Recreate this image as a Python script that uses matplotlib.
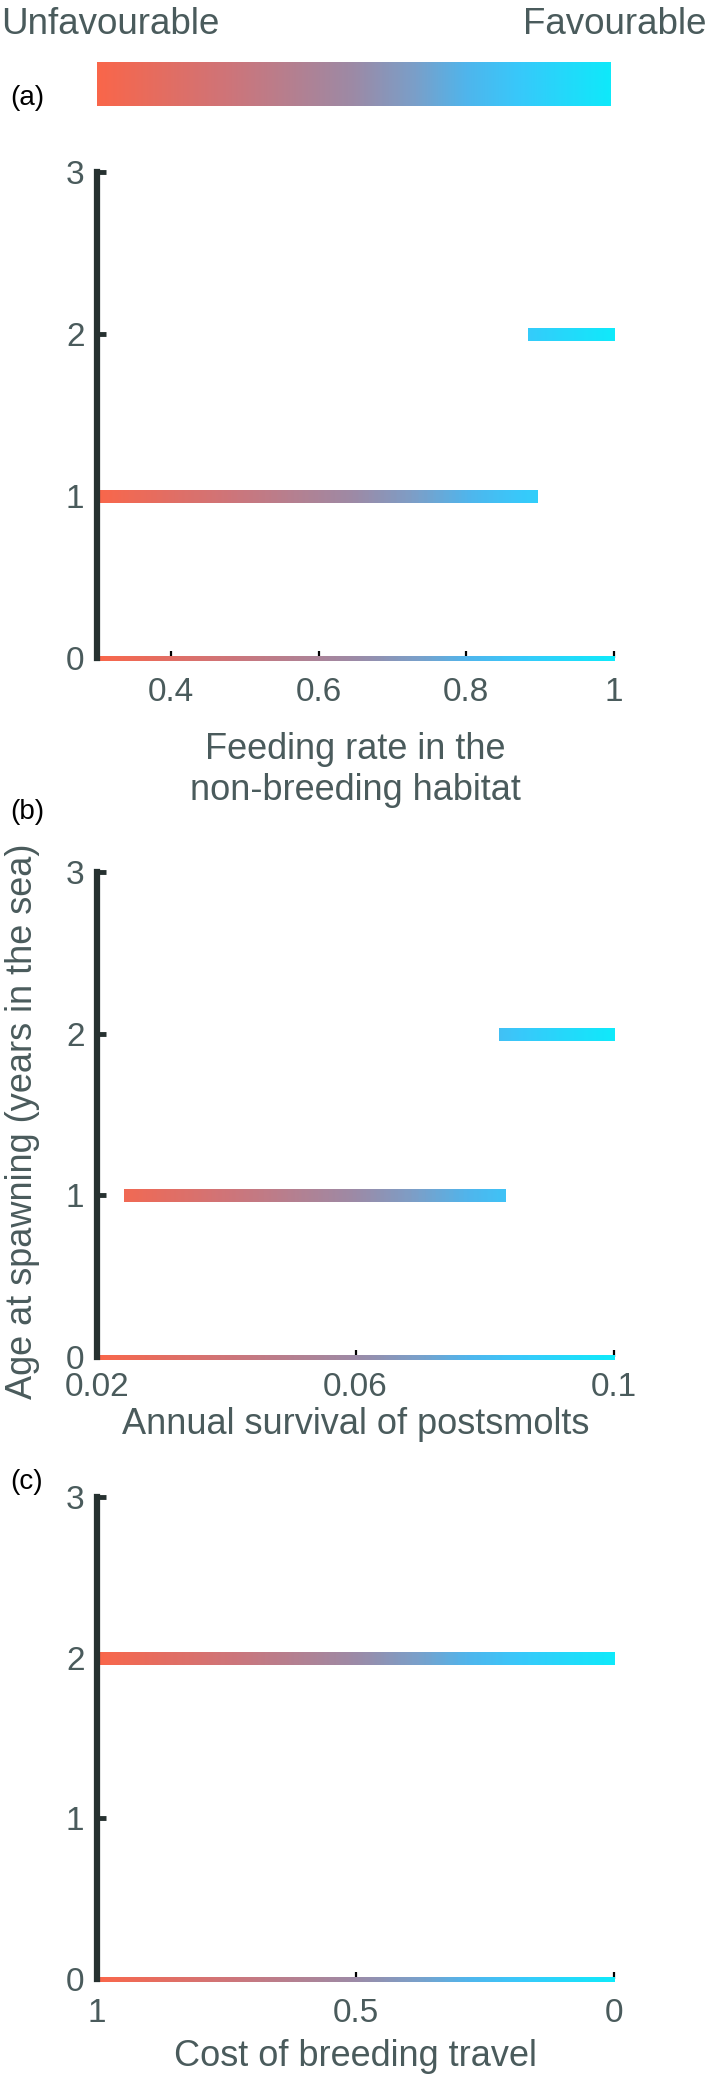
import numpy as np
import matplotlib
matplotlib.use("Agg")
import matplotlib.pyplot as plt
from matplotlib.collections import LineCollection
from matplotlib.colors import LinearSegmentedColormap

plt.rcParams['font.family'] = ['Liberation Sans', 'DejaVu Sans']

# ---------------- data ----------------
# Panel (a): feeding rate in the non-breeding habitat
a_xlim = (0.3, 1.0)
a_xticks = [0.4, 0.6, 0.8, 1.0]
a_xticklabels = ["0.4", "0.6", "0.8", "1"]
a_age = [1, 2]
a_start = [0.3, 0.884]
a_end = [0.896, 1.0]

# Panel (b): annual survival of postsmolts
b_xlim = (0.02, 0.1)
b_xticks = [0.02, 0.06, 0.1]
b_xticklabels = ["0.02", "0.06", "0.1"]
b_age = [1, 2]
b_start = [0.0242, 0.0822]
b_end = [0.0831, 0.1]

# Panel (c): cost of breeding travel (axis reversed: 1 -> 0)
c_xlim = (1.0, 0.0)
c_xticks = [1.0, 0.5, 0.0]
c_xticklabels = ["1", "0.5", "0"]
c_age = [2]
c_start = [1.0]
c_end = [0.0]

yticks = [0, 1, 2, 3]

# ---------------- style ----------------
W, H = 709, 2078
TEXT = "#4a5b5c"
SPINE = "#263130"
cmap = LinearSegmentedColormap.from_list("fav", [
    (0.00, "#F9664A"),
    (0.25, "#CF7478"),
    (0.50, "#9C8AA6"),
    (0.62, "#7A9FC9"),
    (0.72, "#4FB5EC"),
    (0.82, "#38C8FA"),
    (1.00, "#0FE9FA"),
])

fig = plt.figure(figsize=(W / 100, H / 100), dpi=100)


def fx(px):
    return px / W


def fy(py):
    return 1 - py / H


# colour bar on top
cax = fig.add_axes([fx(97), fy(106), 514 / W, 44 / H])
cax.imshow(np.linspace(0, 1, 512)[None, :], aspect="auto", cmap=cmap,
           extent=[0, 1, 0, 1])
cax.set_axis_off()
fig.text(fx(1), fy(24), "Unfavourable", ha="left", va="center",
         fontsize=26.5, color=TEXT)
fig.text(fx(707), fy(24), "Favourable", ha="right", va="center",
         fontsize=26.5, color=TEXT)


def gradient_segments(x0, x1, y, lo, hi, n=300):
    xs = np.linspace(x0, x1, n)
    pts = np.column_stack([xs, np.full(n, y)])
    segs = np.stack([pts[:-1], pts[1:]], axis=1)
    mids = (xs[:-1] + xs[1:]) / 2
    t = (mids - lo) / (hi - lo)
    return segs, cmap(t)


def panel(top, bottom, xlim, xticks, xticklabels, ages, starts, ends,
          letter, letter_y, xlabel, xlabel_y, tick_pad):
    ax = fig.add_axes([fx(97), fy(bottom), 517 / W, (bottom - top) / H])
    lo, hi = xlim
    ax.set_xlim(lo, hi)
    ax.set_ylim(0, 3)
    ax.set_facecolor("none")
    for s in ("top", "right", "bottom"):
        ax.spines[s].set_visible(False)
    ax.spines["left"].set_linewidth(4.5)
    ax.spines["left"].set_color(SPINE)
    ax.spines["left"].set_zorder(4)

    ax.set_yticks(yticks)
    ax.set_yticklabels([str(v) for v in yticks])
    ax.tick_params(axis="y", direction="in", length=6.5, width=3.5,
                   color=SPINE, labelsize=24, labelcolor=TEXT, pad=9)
    ax.yaxis.get_major_ticks()[0].tick1line.set_visible(False)

    ax.set_xticks(xticks)
    ax.set_xticklabels(xticklabels)
    ax.tick_params(axis="x", direction="in", length=5, width=1.6,
                   labelsize=24, labelcolor=TEXT, pad=tick_pad)
    for tk, v in zip(ax.xaxis.get_major_ticks(), xticks):
        tk.tick1line.set_color(cmap((v - lo) / (hi - lo)))
        if v == lo:
            tk.tick1line.set_visible(False)

    # gradient x axis line
    segs, cols = gradient_segments(lo, hi, 0, lo, hi)
    lc = LineCollection(segs, colors=cols, linewidths=2.4, capstyle="butt",
                        antialiaseds=False, zorder=3)
    lc.set_clip_on(False)
    ax.add_collection(lc)

    # data lines
    for age, x0, x1 in zip(ages, starts, ends):
        segs, cols = gradient_segments(x0, x1, age, lo, hi)
        lc = LineCollection(segs, colors=cols, linewidths=8, capstyle="butt",
                            antialiaseds=False, zorder=2)
        lc.set_clip_on(False)
        ax.add_collection(lc)

    fig.text(fx(27), fy(letter_y), letter, ha="center", va="center",
             fontsize=20, color="black")
    ax.set_xlabel(xlabel, fontsize=26, color=TEXT, linespacing=1.2)
    ax.xaxis.set_label_coords(0.5, -(xlabel_y - bottom) / (bottom - top))
    ax.xaxis.label.set_va("center")
    return ax


panel(172, 658, a_xlim, a_xticks, a_xticklabels, a_age, a_start, a_end,
      "(a)", 98, "Feeding rate in the\nnon-breeding habitat", 770, 13.5)
axb = panel(872, 1357, b_xlim, b_xticks, b_xticklabels, b_age, b_start, b_end,
            "(b)", 812, "Annual survival of postsmolts", 1425, 11)
panel(1497, 1979, c_xlim, c_xticks, c_xticklabels, c_age, c_start, c_end,
      "(c)", 1482, "Cost of breeding travel", 2057, 13.5)

axb.set_ylabel("Age at spawning (years in the sea)", fontsize=26, color=TEXT)
axb.yaxis.set_label_coords((23 - 97) / 517, (1357 - 1121) / 485)
axb.yaxis.label.set_va("center")

fig.savefig("out.png", dpi=100)
